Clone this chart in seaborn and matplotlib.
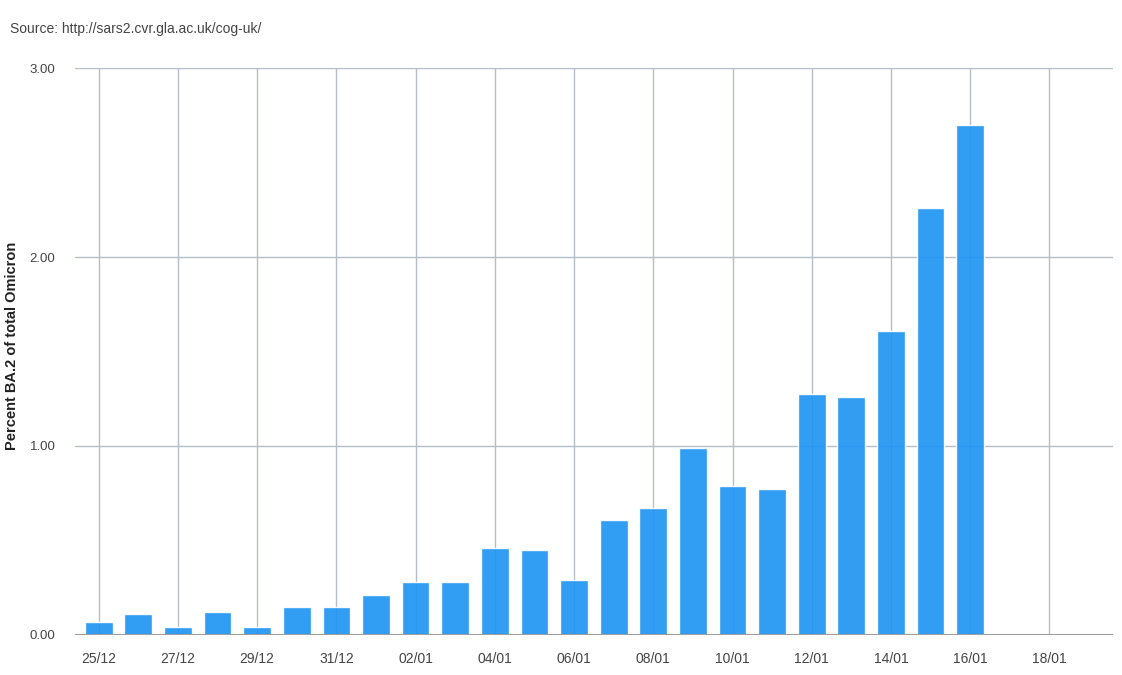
import numpy as np
import pandas as pd
import matplotlib
matplotlib.use("Agg")
import matplotlib.pyplot as plt
import seaborn as sns

# daily share of BA.2 in Omicron sequences
dates = ["25/12", "26/12", "27/12", "28/12", "29/12", "30/12", "31/12",
         "01/01", "02/01", "03/01", "04/01", "05/01", "06/01", "07/01",
         "08/01", "09/01", "10/01", "11/01", "12/01", "13/01", "14/01",
         "15/01", "16/01", "17/01", "18/01"]
percent_ba2 = [0.07, 0.11, 0.04, 0.12, 0.04, 0.15, 0.15,
               0.21, 0.28, 0.28, 0.46, 0.45, 0.29, 0.61,
               0.67, 0.99, 0.79, 0.77, 1.275, 1.26, 1.61,
               2.26, 2.70, np.nan, np.nan]
y_ticks = [0.0, 1.0, 2.0, 3.0]

data = pd.DataFrame({"date": dates, "pct": percent_ba2})

sns.set_theme(style="white")
plt.rcParams["font.family"] = ["Liberation Sans", "DejaVu Sans"]

fig = plt.figure(figsize=(11.22, 6.75), dpi=100)
ax = fig.add_axes([0.0668, 0.0593, 0.925, 0.8399])

grid_col = "#b4bec8"
for y in y_ticks[1:]:
    ax.axhline(y, color=grid_col, lw=1, zorder=0)
for x in range(0, len(dates), 2):
    ax.axvline(x, color=grid_col, lw=1, zorder=0)

sns.barplot(data=data, x="date", y="pct", order=dates, color="#2196F3",
            saturation=1, width=0.7, errorbar=None, alpha=0.93, ax=ax)

ax.set_xlim(-0.6, 25.6)
ax.set_ylim(0, 3.0)
ax.set_yticks(y_ticks)
ax.set_yticklabels([f"{v:.2f}" for v in y_ticks], fontsize=9.5, color="#444444")
ax.set_xticks(range(0, len(dates), 2))
ax.set_xticklabels(dates[::2], fontsize=10, color="#444444")
ax.tick_params(axis="x", length=8, color=grid_col, pad=4)
ax.tick_params(axis="y", length=0, pad=14)
ax.axhline(0, color="#9e9e9e", lw=1.5, zorder=3)

for s in ax.spines.values():
    s.set_visible(False)

ax.set_xlabel("")
ax.set_ylabel("")
fig.text(12 / 1122, 1 - 346 / 675, "Percent BA.2 of total Omicron",
         rotation=90, ha="center", va="center", fontsize=10.5,
         fontweight="bold", color="#222222")

fig.text(0.009, 0.957, "Source: http://sars2.cvr.gla.ac.uk/cog-uk/",
         fontsize=10, color="#444444", va="center")

fig.savefig("out.png", dpi=100)
